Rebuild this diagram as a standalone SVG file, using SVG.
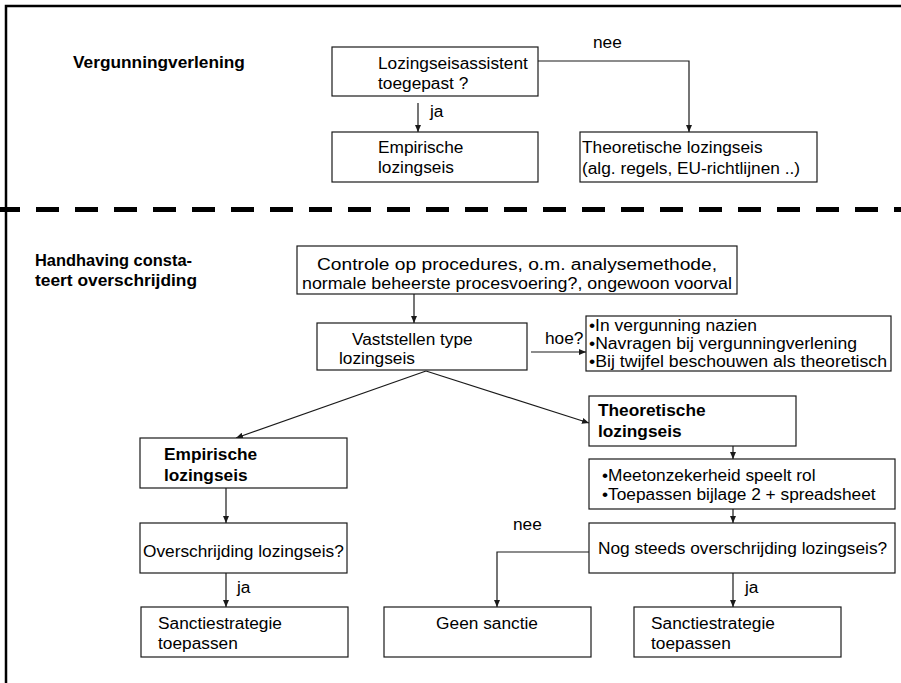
<svg xmlns="http://www.w3.org/2000/svg" width="901" height="683" viewBox="0 0 901 683">
<style>
.box{fill:#fff;stroke:#1a1a1a;stroke-width:1.2}
.t{font-family:"Liberation Sans",Arial,sans-serif;font-size:17.3px;fill:#000}
.s{font-size:15.6px}
.b{font-weight:bold}
.c{fill:none;stroke:#1a1a1a;stroke-width:1.2}
.frame{fill:none;stroke:#000;stroke-width:2.5}
</style>
<defs>
<marker id="ah" markerUnits="userSpaceOnUse" markerWidth="8" markerHeight="8" refX="7" refY="4" orient="auto">
<path d="M0,1 L7,4 L0,7 z" fill="#1a1a1a"/>
</marker>
</defs>
<rect width="901" height="683" fill="#fff"/>
<g id="frame">
<path class="frame" d="M6,683 V6 H901"/>
<line x1="-3" y1="209.5" x2="901" y2="209.5" stroke="#000" stroke-width="5" stroke-dasharray="23 16"/>
</g>
<g id="connectors">
<polyline class="c" points="538,61 689,61 689,132" marker-end="url(#ah)"/>
<line class="c" x1="418" y1="103" x2="418" y2="132" marker-end="url(#ah)"/>
<line class="c" x1="414" y1="294" x2="414" y2="323" marker-end="url(#ah)"/>
<line class="c" x1="531" y1="352" x2="586" y2="352" marker-end="url(#ah)"/>
<line class="c" x1="426" y1="371" x2="236" y2="438" marker-end="url(#ah)"/>
<line class="c" x1="426" y1="371" x2="589" y2="423" marker-end="url(#ah)"/>
<line class="c" x1="226" y1="488" x2="226" y2="523" marker-end="url(#ah)"/>
<line class="c" x1="733" y1="446" x2="733" y2="459" marker-end="url(#ah)"/>
<line class="c" x1="733" y1="509" x2="733" y2="523" marker-end="url(#ah)"/>
<line class="c" x1="226" y1="573" x2="226" y2="607" marker-end="url(#ah)"/>
<polyline class="c" points="589,552 497,552 497,607" marker-end="url(#ah)"/>
<line class="c" x1="733" y1="573" x2="733" y2="607" marker-end="url(#ah)"/>
</g>
<g id="labels">
<text class="t b" x="73" y="68">Vergunningverlening</text>
<text class="t" x="593" y="48">nee</text>
<text class="t" x="430" y="117">ja</text>
<text class="t b" x="35" y="266" textLength="157" lengthAdjust="spacingAndGlyphs">Handhaving consta-</text>
<text class="t b" x="35" y="286" textLength="162" lengthAdjust="spacingAndGlyphs">teert overschrijding</text>
<text class="t" x="545" y="344">hoe?</text>
<text class="t" x="513" y="530">nee</text>
<text class="t" x="237" y="593">ja</text>
<text class="t" x="745" y="593">ja</text>
</g>
<g id="n-toegepast">
<rect class="box" x="332" y="47" width="206" height="49"/>
<text class="t" x="378" y="69">Lozingseisassistent</text>
<text class="t" x="378" y="89">toegepast ?</text>
</g>
<g id="n-empirisch-top">
<rect class="box" x="332" y="132" width="206" height="50"/>
<text class="t" x="378" y="153">Empirische</text>
<text class="t" x="378" y="173">lozingseis</text>
</g>
<g id="n-theoretisch-top">
<rect class="box" x="580" y="132" width="237" height="50"/>
<text class="t" x="582" y="153">Theoretische lozingseis</text>
<text class="t" x="582" y="174">(alg. regels, EU-richtlijnen ..)</text>
</g>
<g id="n-controle">
<rect class="box" x="297" y="246" width="440" height="48"/>
<text class="t" x="517" y="270" text-anchor="middle" textLength="400" lengthAdjust="spacingAndGlyphs">Controle op procedures, o.m. analysemethode,</text>
<text class="t" x="517" y="289" text-anchor="middle" textLength="430" lengthAdjust="spacingAndGlyphs">normale beheerste procesvoering?, ongewoon voorval</text>
</g>
<g id="n-vaststellen">
<rect class="box" x="317" y="323" width="210" height="47"/>
<text class="t" x="352" y="345">Vaststellen type</text>
<text class="t" x="339" y="364">lozingseis</text>
</g>
<g id="n-hoe">
<rect class="box" x="586" y="316" width="305" height="55"/>
<text class="t s" x="589" y="331" textLength="168" lengthAdjust="spacingAndGlyphs">•In vergunning nazien</text>
<text class="t s" x="589" y="349" textLength="268" lengthAdjust="spacingAndGlyphs">•Navragen bij vergunningverlening</text>
<text class="t s" x="589" y="367" textLength="298" lengthAdjust="spacingAndGlyphs">•Bij twijfel beschouwen als theoretisch</text>
</g>
<g id="n-empirisch">
<rect class="box" x="140" y="438" width="207" height="50"/>
<text class="t b" x="164" y="460">Empirische</text>
<text class="t b" x="164" y="481">lozingseis</text>
</g>
<g id="n-theoretisch">
<rect class="box" x="589" y="396" width="207" height="50"/>
<text class="t b" x="598" y="416">Theoretische</text>
<text class="t b" x="598" y="437">lozingseis</text>
</g>
<g id="n-meet">
<rect class="box" x="589" y="459" width="306" height="50"/>
<text class="t" x="602" y="481">•Meetonzekerheid speelt rol</text>
<text class="t" x="602" y="500">•Toepassen bijlage 2 + spreadsheet</text>
</g>
<g id="n-overschrijding">
<rect class="box" x="140" y="523" width="207" height="50"/>
<text class="t" x="143" y="557">Overschrijding lozingseis?</text>
</g>
<g id="n-nogsteeds">
<rect class="box" x="589" y="523" width="306" height="50"/>
<text class="t" x="598" y="554">Nog steeds overschrijding lozingseis?</text>
</g>
<g id="n-sanctie-links">
<rect class="box" x="141" y="607" width="207" height="50"/>
<text class="t" x="158" y="629">Sanctiestrategie</text>
<text class="t" x="158" y="649">toepassen</text>
</g>
<g id="n-geen">
<rect class="box" x="384" y="607" width="207" height="50"/>
<text class="t" x="487" y="629" text-anchor="middle">Geen sanctie</text>
</g>
<g id="n-sanctie-rechts">
<rect class="box" x="634" y="607" width="207" height="50"/>
<text class="t" x="651" y="629">Sanctiestrategie</text>
<text class="t" x="651" y="649">toepassen</text>
</g>
</svg>
